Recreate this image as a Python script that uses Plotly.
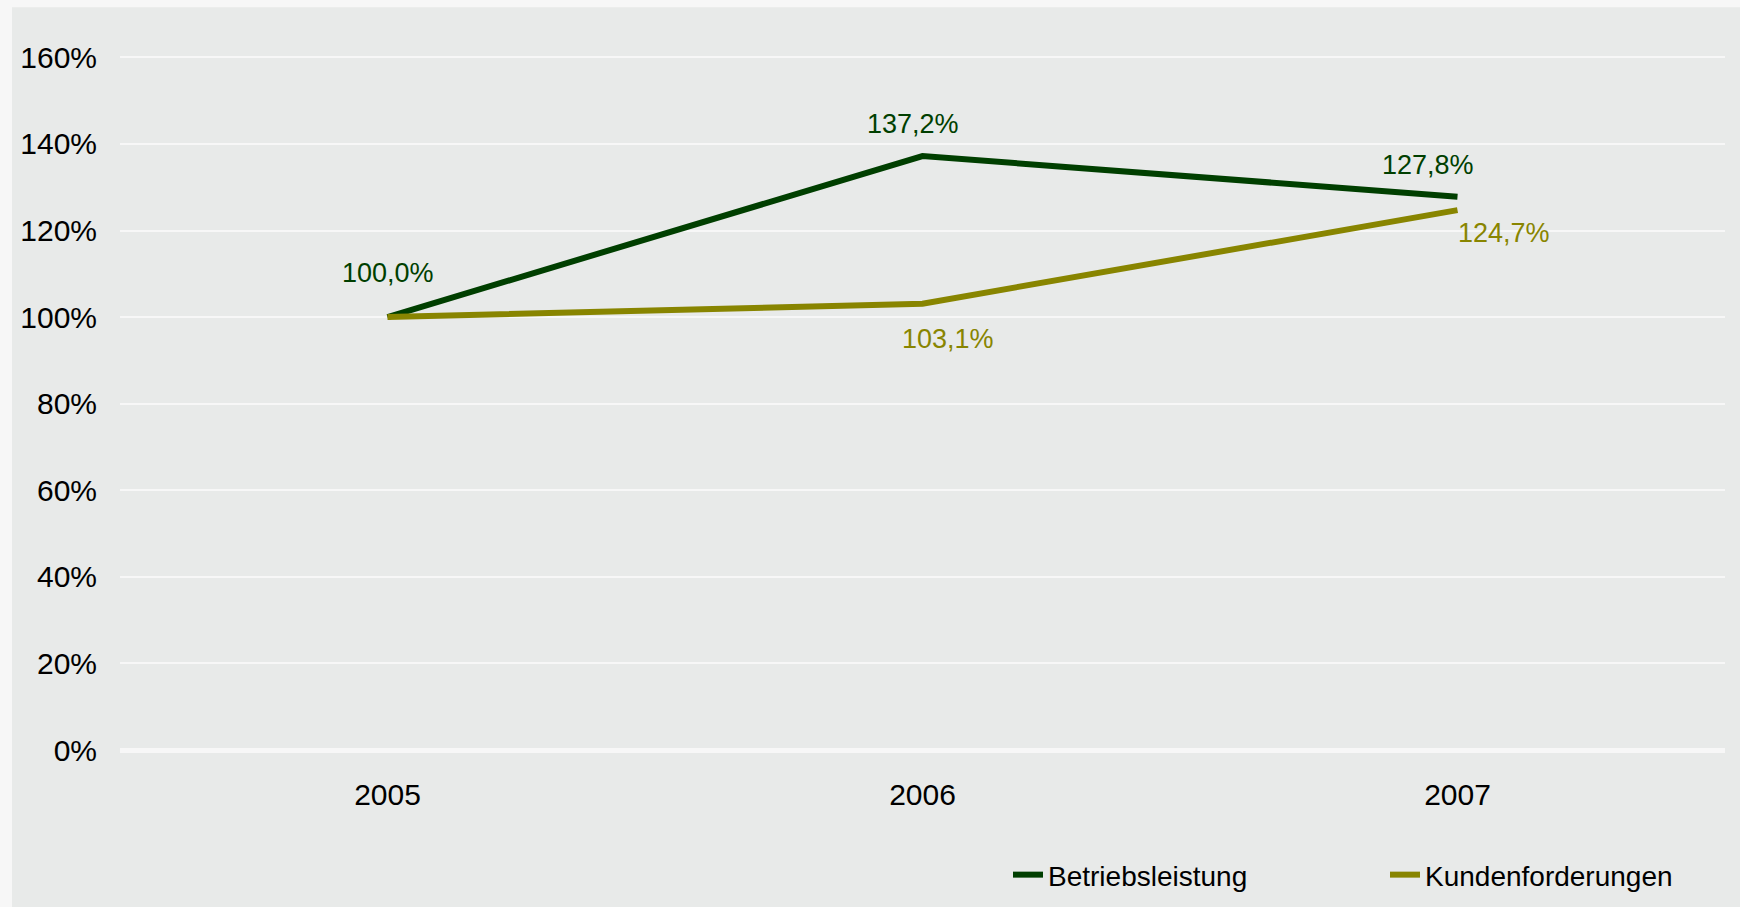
import plotly.graph_objects as go

years = ["2005", "2006", "2007"]
betriebsleistung = [100.0, 137.2, 127.8]
kundenforderungen = [100.0, 103.1, 124.7]
series_names = ["Betriebsleistung", "Kundenforderungen"]
y_ticks = [0, 20, 40, 60, 80, 100, 120, 140, 160]
y_tick_labels = [f"{v}%" for v in y_ticks]

c_dark = "#003f00"
c_olive = "#888500"
panel = "#e8eae9"
outer = "#f7f7f7"

W, H = 1740, 907
Y_TOP = 161
L, R, B = 120, 15, 157
ph = (H - B - 57) * Y_TOP / 160
T = H - B - ph
pw = W - L - R

def fmt(v):
    return f"{v:.1f}".replace(".", ",") + "%"

fig = go.Figure()
fig.add_trace(go.Scatter(x=years, y=betriebsleistung, mode="lines", name=series_names[0],
                         line=dict(color=c_dark, width=6), hoverinfo="skip"))
fig.add_trace(go.Scatter(x=years, y=kundenforderungen, mode="lines", name=series_names[1],
                         line=dict(color=c_olive, width=6), hoverinfo="skip"))

label_font = dict(family="Liberation Sans, Arial", size=27)
shifts_dark = [(0, 44), (-10, 32), (-30, 32)]
shifts_olive = [None, (25, -35), (46, -23)]
for i, v in enumerate(betriebsleistung):
    dx, dy = shifts_dark[i]
    fig.add_annotation(x=i, y=v, text=fmt(v), showarrow=False, xshift=dx, yshift=dy,
                       font=dict(color=c_dark, **label_font))
for i, v in enumerate(kundenforderungen):
    if shifts_olive[i] is None:
        continue
    dx, dy = shifts_olive[i]
    fig.add_annotation(x=i, y=v, text=fmt(v), showarrow=False, xshift=dx, yshift=dy,
                       font=dict(color=c_olive, **label_font))

# panel background
fig.add_shape(type="rect", xref="paper", yref="paper",
              x0=(12 - L) / pw, x1=(W + 5 - L) / pw,
              y0=(H - B - (H + 5)) / ph, y1=(H - B - 7) / ph,
              fillcolor=panel, line=dict(width=0), layer="below")

fig.update_layout(
    width=W, height=H,
    margin=dict(l=L, r=R, t=T, b=B, pad=0, autoexpand=False),
    paper_bgcolor=outer,
    plot_bgcolor="rgba(0,0,0,0)",
    font=dict(family="Liberation Sans, Arial", color="#000000"),
    showlegend=True,
    legend=dict(orientation="h", x=(1008 - L) / pw, xanchor="left",
                y=(H - B - 875) / ph, yanchor="middle",
                font=dict(family="Liberation Sans, Arial", size=28, color="#000000"),
                bgcolor="rgba(0,0,0,0)", entrywidth=332, itemwidth=30,
                tracegroupgap=0),
)
fig.update_xaxes(type="category", range=[-0.5, 2.5], showgrid=False, showline=False,
                 ticks="", tickfont=dict(size=30), ticklabelstandoff=24, zeroline=False)
fig.update_yaxes(range=[0, Y_TOP], tickvals=y_ticks, ticktext=y_tick_labels,
                 showgrid=True, gridcolor=outer, gridwidth=2,
                 zeroline=True, zerolinecolor=outer, zerolinewidth=5,
                 showline=False, ticks="", tickfont=dict(size=30), ticklabelstandoff=22)

fig.write_html("out.html", config={"displayModeBar": False},
               post_script="document.body.style.margin='0';")
